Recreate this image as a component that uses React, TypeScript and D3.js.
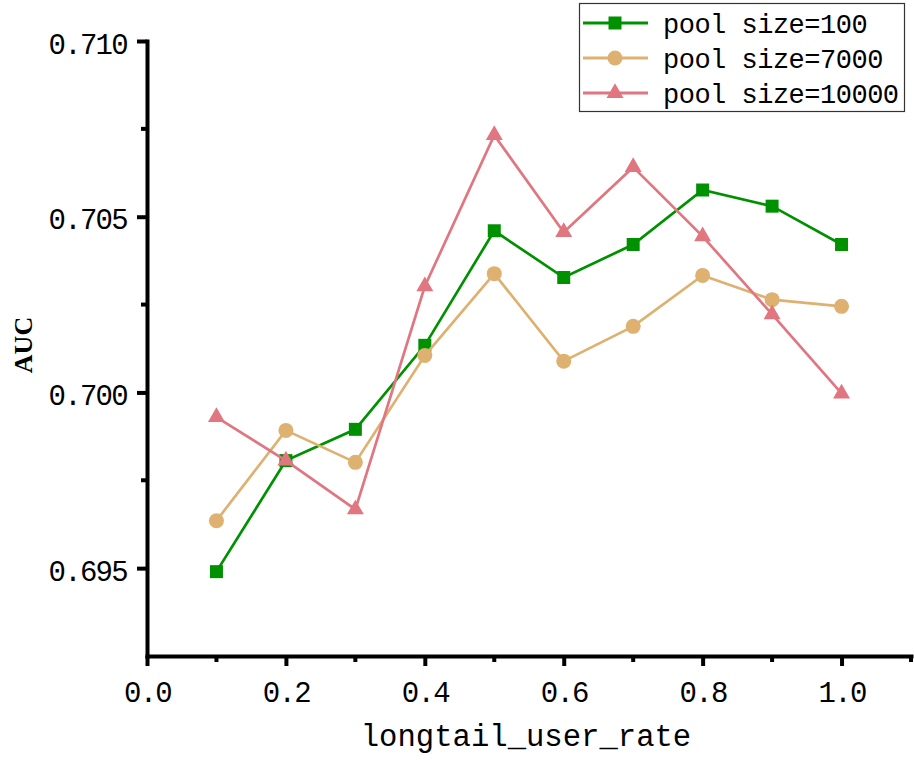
import React, { useEffect, useRef } from "react";
import * as d3 from "d3";

// longtail_user_rate on the x axis
const rates = [0.1, 0.2, 0.3, 0.4, 0.5, 0.6, 0.7, 0.8, 0.9, 1.0];
// AUC per pool size
const auc100 = [0.6949, 0.69806, 0.69895, 0.70134, 0.7046, 0.70327, 0.70421, 0.70576, 0.7053, 0.70421];
const auc7000 = [0.69635, 0.69892, 0.69801, 0.70105, 0.70338, 0.70089, 0.70188, 0.70333, 0.70264, 0.70245];
const auc10000 = [0.6993, 0.69806, 0.69667, 0.70302, 0.70732, 0.70456, 0.70641, 0.70444, 0.70222, 0.69997];

const seriesNames = ["pool size=100", "pool size=7000", "pool size=10000"];
const seriesColors = ["#009100", "#DEB170", "#E07680"];
const seriesSymbols = [d3.symbolSquare, d3.symbolCircle, d3.symbolTriangle];
const symbolSizes = [169, 177, 125];

const xTicks = [0, 0.2, 0.4, 0.6, 0.8, 1.0];
const xMinorTicks = [0.1, 0.3, 0.5, 0.7, 0.9, 1.1];
const yTicks = [0.695, 0.7, 0.705, 0.71];
const yMinorTicks = [0.6975, 0.7025, 0.7075];

const W = 914;
const H = 760;
const margin = { left: 147, right: 3, top: 41, bottom: 104 };
const mono = "'Liberation Mono', 'DejaVu Sans Mono', monospace";

const App = () => {
  const ref = useRef<SVGSVGElement>(null);

  useEffect(() => {
    const svg = d3.select(ref.current);
    svg.selectAll("*").remove();

    const x = d3.scaleLinear().domain([0, 1.1]).range([margin.left, W - margin.right]);
    const y = d3.scaleLinear().domain([0.6925, 0.71]).range([H - margin.bottom, margin.top]);
    const y0 = H - margin.bottom;

    // minor ticks first, under the axis lines
    const minor = svg.append("g").attr("stroke", "#000").attr("stroke-width", 4);
    minor
      .selectAll("line.xm")
      .data(xMinorTicks)
      .join("line")
      .attr("x1", (d) => x(d))
      .attr("x2", (d) => x(d))
      .attr("y1", y0)
      .attr("y2", y0 + 6);
    minor
      .selectAll("line.ym")
      .data(yMinorTicks)
      .join("line")
      .attr("x1", margin.left)
      .attr("x2", margin.left - 6)
      .attr("y1", (d) => y(d))
      .attr("y2", (d) => y(d));

    const xAxis = d3
      .axisBottom(x)
      .tickValues(xTicks)
      .tickSize(10)
      .tickSizeOuter(0)
      .tickPadding(15)
      .tickFormat(d3.format(".1f"));
    const yAxis = d3
      .axisLeft(y)
      .tickValues(yTicks)
      .tickSize(10)
      .tickSizeOuter(0)
      .tickPadding(10)
      .tickFormat(d3.format(".3f"));

    const gx = svg.append("g").attr("transform", `translate(0,${y0})`).call(xAxis);
    const gy = svg.append("g").attr("transform", `translate(${margin.left},0)`).call(yAxis);
    for (const g of [gx, gy]) {
      g.select(".domain").attr("stroke-width", 4).attr("stroke-linecap", "square");
      g.selectAll(".tick line").attr("stroke-width", 4);
      g.selectAll(".tick text")
        .attr("font-family", mono)
        .attr("font-size", 29)
        .attr("letter-spacing", -1.7)
        .attr("fill", "#000");
    }
    gy.selectAll(".tick text").attr("dy", "0.42em");

    // series
    const allSeries = [auc100, auc7000, auc10000];
    const line = d3
      .line<number>()
      .x((_, i) => x(rates[i]))
      .y((d) => y(d));
    allSeries.forEach((vals, s) => {
      const g = svg.append("g");
      g.append("path")
        .attr("d", line(vals))
        .attr("fill", "none")
        .attr("stroke", seriesColors[s])
        .attr("stroke-width", 2.7);
      const sym = d3.symbol().type(seriesSymbols[s]).size(symbolSizes[s]);
      g.selectAll("path.m")
        .data(vals)
        .join("path")
        .attr("class", "m")
        .attr("d", sym())
        .attr("transform", (d, i) => `translate(${x(rates[i])},${y(d)})`)
        .attr("fill", seriesColors[s]);
    });

    // legend
    const lg = svg.append("g");
    lg.append("rect")
      .attr("x", 579.5)
      .attr("y", 3.5)
      .attr("width", 325)
      .attr("height", 108)
      .attr("fill", "#fff")
      .attr("stroke", "#333")
      .attr("stroke-width", 1.2);
    seriesNames.forEach((name, s) => {
      const cy = 23 + s * 35;
      lg.append("line")
        .attr("x1", 583)
        .attr("x2", 648)
        .attr("y1", cy)
        .attr("y2", cy)
        .attr("stroke", seriesColors[s])
        .attr("stroke-width", 3);
      lg.append("path")
        .attr("d", d3.symbol().type(seriesSymbols[s]).size(symbolSizes[s])())
        .attr("transform", `translate(615,${cy})`)
        .attr("fill", seriesColors[s]);
      lg.append("text")
        .attr("x", 663)
        .attr("y", cy + 10)
        .attr("font-family", mono)
        .attr("font-size", 27)
        .attr("letter-spacing", -0.5)
        .text(name);
    });

    // axis titles
    svg
      .append("text")
      .attr("x", 526)
      .attr("y", 746)
      .attr("text-anchor", "middle")
      .attr("font-family", mono)
      .attr("font-size", 30.6)
      .text("longtail_user_rate");
    svg
      .append("text")
      .attr("transform", "translate(23,345) rotate(-90)")
      .attr("text-anchor", "middle")
      .attr("dominant-baseline", "central")
      .attr("font-family", "'Liberation Serif', serif")
      .attr("font-weight", "bold")
      .attr("font-size", 26)
      .text("AUC");
  }, []);

  return (
    <div style={{ position: "absolute", left: 0, top: 0 }}>
      <svg ref={ref} width={W} height={H} style={{ display: "block", background: "#fff" }}></svg>
    </div>
  );
};

export default App;
